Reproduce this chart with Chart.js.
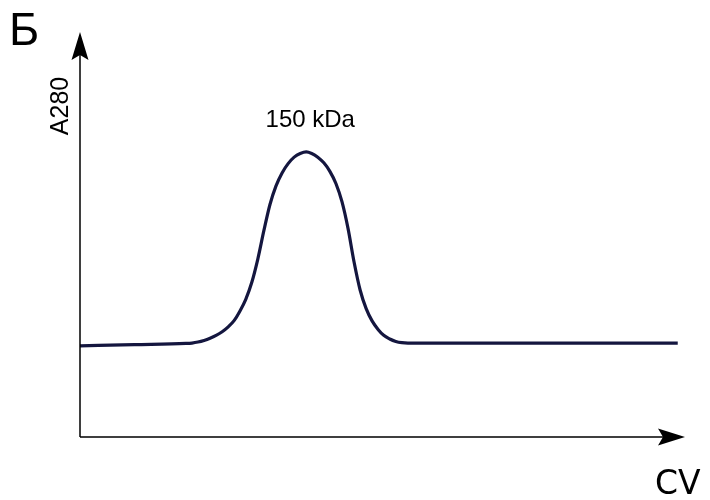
<!DOCTYPE html>
<html>
<head>
<meta charset="utf-8">
<script src="https://cdn.jsdelivr.net/npm/chart.js@4.4.0/dist/chart.umd.min.js"></script>
<style>
html,body{margin:0;padding:0;background:#fff;}
#wrap{width:710px;height:500px;position:relative;}
</style>
</head>
<body>
<div id="wrap"><canvas id="c"></canvas></div>
<script>
// Elution volume (CV, arbitrary units) and absorbance A280 (arbitrary units)
const cvValues = [0, 9.0, 17.5, 18.5, 19.5, 20.5, 21.5, 22.5, 23.5, 24.5, 25.5, 26.4, 27.4, 28.4, 29.4, 30.4, 31.4, 32.4, 33.4, 34.4, 35.4, 36.4, 37.4, 38.3, 39.3, 40.3, 41.3, 42.3, 43.3, 44.3, 45.3, 46.3, 47.3, 48.3, 49.3, 50.2, 51.2, 52.2, 53.2, 54.2, 56.2, 77.0, 98.8];
const a280Values = [22.5, 22.8, 23.1, 23.2, 23.45, 23.85, 24.4, 25.1, 26.0, 27.2, 28.8, 31.0, 34.0, 38.2, 44.0, 51.0, 57.4, 62.0, 65.2, 67.5, 69.1, 70.0, 70.4, 70.0, 69.1, 67.7, 65.6, 62.6, 58.1, 51.5, 43.2, 36.3, 31.7, 28.6, 26.5, 25.1, 24.2, 23.6, 23.3, 23.2, 23.2, 23.2, 23.2];
const panelLabel = 'Б';
const yAxisLabel = 'A280';
const xAxisLabel = 'CV';
const peakLabel = '150 kDa';
const peakIndex = 22;

const points = cvValues.map((x, i) => ({x: x, y: a280Values[i]}));

const decor = {
  id: 'decor',
  afterDraw(chart) {
    const ctx = chart.ctx;
    const xs = chart.scales.x, ys = chart.scales.y;
    const x0 = xs.getPixelForValue(0), xEnd = xs.getPixelForValue(100);
    const y0 = ys.getPixelForValue(0), yEnd = ys.getPixelForValue(100);
    ctx.save();
    ctx.strokeStyle = '#000';
    ctx.fillStyle = '#000';
    ctx.lineWidth = 1.5;
    ctx.beginPath();
    ctx.moveTo(x0, y0);
    ctx.lineTo(xEnd - 20, y0);
    ctx.moveTo(x0, y0);
    ctx.lineTo(x0, yEnd + 20);
    ctx.stroke();
    ctx.beginPath();
    ctx.moveTo(xEnd, y0);
    ctx.lineTo(xEnd - 27, y0 - 8.5);
    ctx.lineTo(xEnd - 22, y0);
    ctx.lineTo(xEnd - 27, y0 + 8.5);
    ctx.closePath();
    ctx.fill();
    ctx.beginPath();
    ctx.moveTo(x0, yEnd);
    ctx.lineTo(x0 - 8.5, yEnd + 28);
    ctx.lineTo(x0, yEnd + 23);
    ctx.lineTo(x0 + 8.5, yEnd + 28);
    ctx.closePath();
    ctx.fill();
    ctx.fillStyle = '#000';
    ctx.textBaseline = 'alphabetic';
    ctx.textAlign = 'left';
    ctx.font = '46px "Liberation Sans", Arial, sans-serif';
    ctx.fillText(panelLabel, 9, 45);
    ctx.font = '33px "DejaVu Sans", sans-serif';
    ctx.fillText(xAxisLabel, 655, 494);
    ctx.font = '24px "Liberation Sans", Arial, sans-serif';
    ctx.textAlign = 'center';
    const px = xs.getPixelForValue(cvValues[peakIndex]);
    ctx.fillText(peakLabel, px + 4, 127);
    ctx.save();
    ctx.translate(68, 106);
    ctx.rotate(-Math.PI / 2);
    ctx.font = '25px "Liberation Sans", Arial, sans-serif';
    ctx.textAlign = 'center';
    ctx.fillText(yAxisLabel, 0, 0);
    ctx.restore();
    ctx.restore();
  }
};

new Chart(document.getElementById('c'), {
  type: 'line',
  data: {
    datasets: [{
      data: points,
      borderColor: '#14163f',
      borderWidth: 3.2,
      pointRadius: 0,
      fill: false,
      cubicInterpolationMode: 'monotone',
      borderJoinStyle: 'round',
      clip: false
    }]
  },
  options: {
    responsive: true,
    maintainAspectRatio: false,
    animation: false,
    devicePixelRatio: 1,
    layout: {padding: {left: 80, right: 25, top: 32, bottom: 63}},
    plugins: {legend: {display: false}, tooltip: {enabled: false}},
    scales: {
      x: {type: 'linear', min: 0, max: 100, display: false},
      y: {type: 'linear', min: 0, max: 100, display: false}
    }
  },
  plugins: [decor]
});
</script>
</body>
</html>
